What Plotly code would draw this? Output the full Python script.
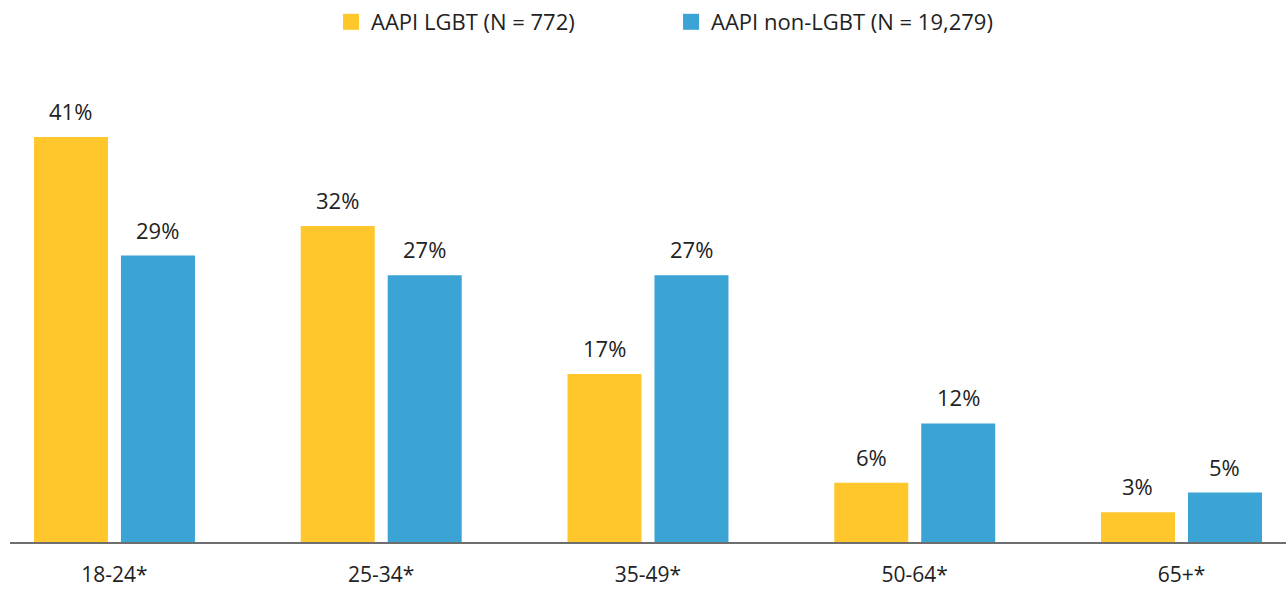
import plotly.graph_objects as go

categories = ["18-24*", "25-34*", "35-49*", "50-64*", "65+*"]
lgbt = [41, 32, 17, 6, 3]
non_lgbt = [29, 27, 27, 12, 5]
series_names = ["AAPI LGBT (N = 772)", "AAPI non-LGBT (N = 19,279)"]
colors = ["#FFC72C", "#3BA4D4"]

FONT = "Open Sans"
TXT = "#222222"

fig = go.Figure()
for name, vals, col in zip(series_names, [lgbt, non_lgbt], colors):
    fig.add_trace(go.Bar(x=categories, y=vals, name=name, marker_color=col,
                         marker_line_width=0, showlegend=False))

# legend entries with larger square swatches
for name, col in zip(series_names, colors):
    fig.add_trace(go.Scatter(x=[None], y=[None], mode="markers", name=name,
                             marker=dict(symbol="square", size=16, color=col,
                                         line=dict(width=0)),
                             showlegend=True))

# value labels above bars
for k, vals in enumerate([lgbt, non_lgbt]):
    shift = -43.5 if k == 0 else 43.5
    for c, v in zip(categories, vals):
        fig.add_annotation(x=c, y=v, text=f"{v}%", showarrow=False,
                           xshift=shift, yshift=9, yanchor="bottom",
                           font=dict(family=FONT, size=22, color=TXT))

fig.update_layout(
    width=1286, height=589,
    margin=dict(l=10, r=0, t=60, b=47),
    plot_bgcolor="white", paper_bgcolor="white",
    barmode="group", bargap=0.348, bargroupgap=0.149,
    font=dict(family=FONT, size=21, color=TXT),
    showlegend=True,
    legend=dict(orientation="h", x=0.2516, xanchor="left", y=1 + 38 / 482,
                yanchor="middle",
                font=dict(family=FONT, size=22, color=TXT), entrywidth=295,
                itemsizing="trace"),
    xaxis=dict(range=[-0.3917, 4.3918], showline=True, linecolor="#6e6e6e",
               linewidth=2, ticks="", showgrid=False, zeroline=False,
               ticklabelstandoff=13,
               tickfont=dict(family=FONT, size=21, color=TXT)),
    yaxis=dict(range=[0, 48.8], visible=False, showgrid=False, zeroline=False),
)

fig.write_html("out.html", config={"displayModeBar": False},
               post_script="document.body.style.margin='0px';")
